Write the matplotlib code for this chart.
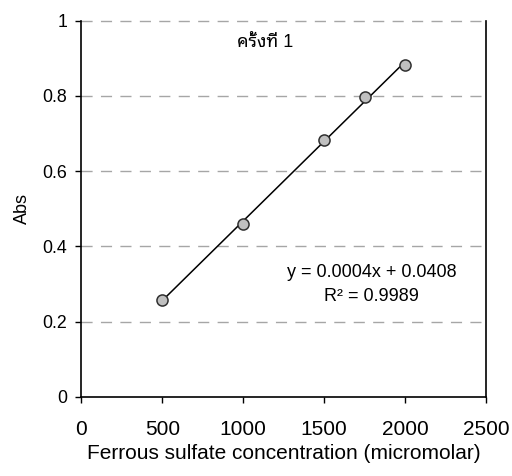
import matplotlib
matplotlib.use("Agg")
import matplotlib.pyplot as plt
import numpy as np
from matplotlib.ticker import FuncFormatter

conc = [500, 1000, 1500, 1750, 2000]
absorb = [0.258, 0.460, 0.684, 0.796, 0.881]
title_text = "ครั้งที่ 1"
eq_text = "y = 0.0004x + 0.0408"
r2_text = "R² = 0.9989"
xticks = [0, 500, 1000, 1500, 2000, 2500]
yticks = [0, 0.2, 0.4, 0.6, 0.8, 1.0]

plt.rcParams['font.family'] = ['Liberation Sans', 'Noto Sans Thai Looped']

fig = plt.figure(figsize=(5.12, 4.76), dpi=100)
ax = fig.add_axes([0.159, 0.166, 0.79, 0.7905])

for y in yticks[1:]:
    ax.axhline(y, color='#a6a6a6', lw=1.0, ls=(0, (8, 6)), zorder=1, clip_on=False)

coef = np.polyfit(conc, absorb, 1)
xl = np.array([conc[0], conc[-1]])
ax.plot(xl, np.polyval(coef, xl), color='black', lw=1.1, zorder=2)
ax.plot(conc, absorb, 'o', ms=8, mfc='#c0c0c0', mec='#303030', mew=1.1, zorder=3)

ax.set_xlim(0, 2500)
ax.set_ylim(0, 1)
ax.set_xticks(xticks)
ax.set_yticks(yticks)
ax.yaxis.set_major_formatter(FuncFormatter(lambda v, p: "%g" % v))
ax.tick_params(direction='out', length=4.3, width=1)
ax.tick_params(axis='x', pad=12, labelsize=15)
ax.tick_params(axis='y', pad=6, labelsize=12.75)
ax.spines['top'].set_visible(False)
for s in ['left', 'right', 'bottom']:
    ax.spines[s].set_linewidth(1.2)

ax.set_xlabel("Ferrous sulfate concentration (micromolar)", fontsize=15, labelpad=4)
ax.set_ylabel("Abs", fontsize=13, labelpad=8)

ax.text(0.4536, 0.943, title_text, transform=ax.transAxes, ha='center', va='center', fontsize=13)
ax.text(0.718, 0.33, eq_text, transform=ax.transAxes, ha='center', va='center', fontsize=13)
ax.text(0.718, 0.266, r2_text, transform=ax.transAxes, ha='center', va='center', fontsize=13)

fig.savefig("out.png", dpi=100)
